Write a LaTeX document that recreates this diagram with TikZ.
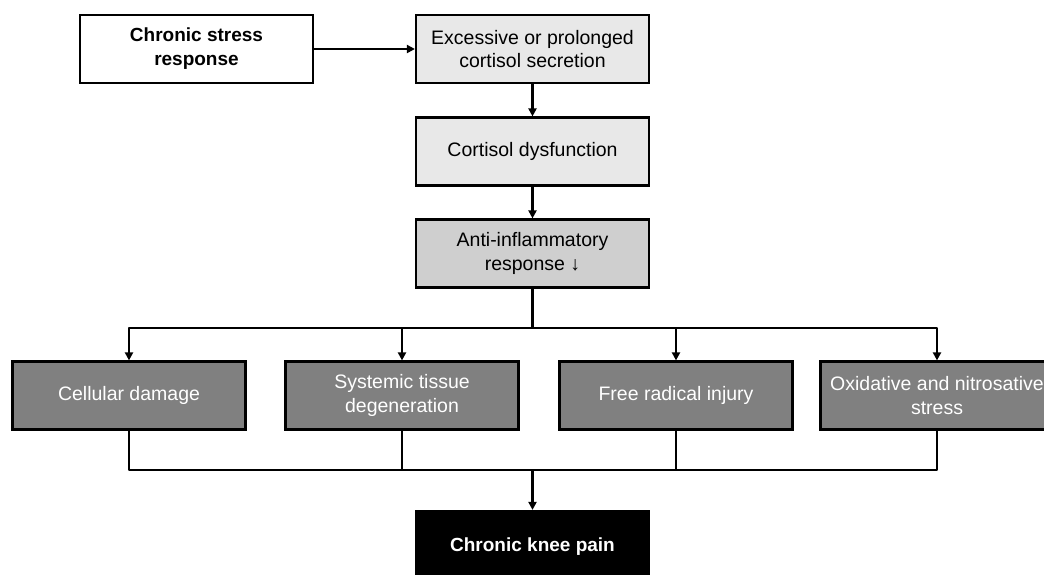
\documentclass[tikz,border=0pt]{standalone}
\usepackage{fontspec}
\setmainfont{Liberation Sans}
\usetikzlibrary{arrows.meta}
\begin{document}
\begin{tikzpicture}[x=1pt,y=-1pt,
  box/.style={draw=black,line width=2.2pt,minimum width=233pt,minimum height=68pt,inner sep=1pt,align=center,font=\fontsize{19.5}{23.5}\selectfont},
  whitebox/.style={box,fill=white,font=\fontsize{19}{24}\selectfont\bfseries},
  lightbox/.style={box,fill=black!9},
  midbox/.style={box,fill=black!19},
  darkbox/.style={box,fill=black!50,text=white},
  blackbox/.style={box,fill=black,text=white,minimum height=72pt,font=\fontsize{19}{24}\selectfont\bfseries},
  conn/.style={line width=2.2pt,line join=round},
  arr/.style={conn,-{Triangle[length=8pt,width=8pt]}}]
\useasboundingbox (0,0) rectangle (1044,574);
\node[whitebox] (chronic) at (196.5,49) {Chronic stress\\response};
\node[lightbox] (excess) at (532.5,49) {Excessive or prolonged\\cortisol secretion};
\node[lightbox] (dysf) at (532.5,151.5) {Cortisol dysfunction};
\node[midbox] (anti) at (532.5,253.5) {Anti-inflammatory\\response ↓};
\node[darkbox] (cell) at (129,395.5) {Cellular damage};
\node[darkbox] (syst) at (402,395.5) {Systemic tissue\\degeneration};
\node[darkbox] (free) at (676,395.5) {Free radical injury};
\node[darkbox] (oxid) at (937,395.5) {Oxidative and nitrosative\\stress};
\node[blackbox] (knee) at (532.5,547) {Chronic knee pain};
\coordinate (split) at (532.5,328);
\coordinate (merge) at (532.5,470);
\draw[arr] (chronic) -- (excess);
\draw[arr] (excess) -- (dysf);
\draw[arr] (dysf) -- (anti);
\draw[conn] (anti.south) -- (split);
\foreach \b in {cell,syst,free,oxid} {
  \draw[arr] (split) -| (\b.north);
  \draw[conn] (\b.south) |- (merge);
}
\draw[arr] (merge) -- (knee.north);
\end{tikzpicture}
\end{document}
